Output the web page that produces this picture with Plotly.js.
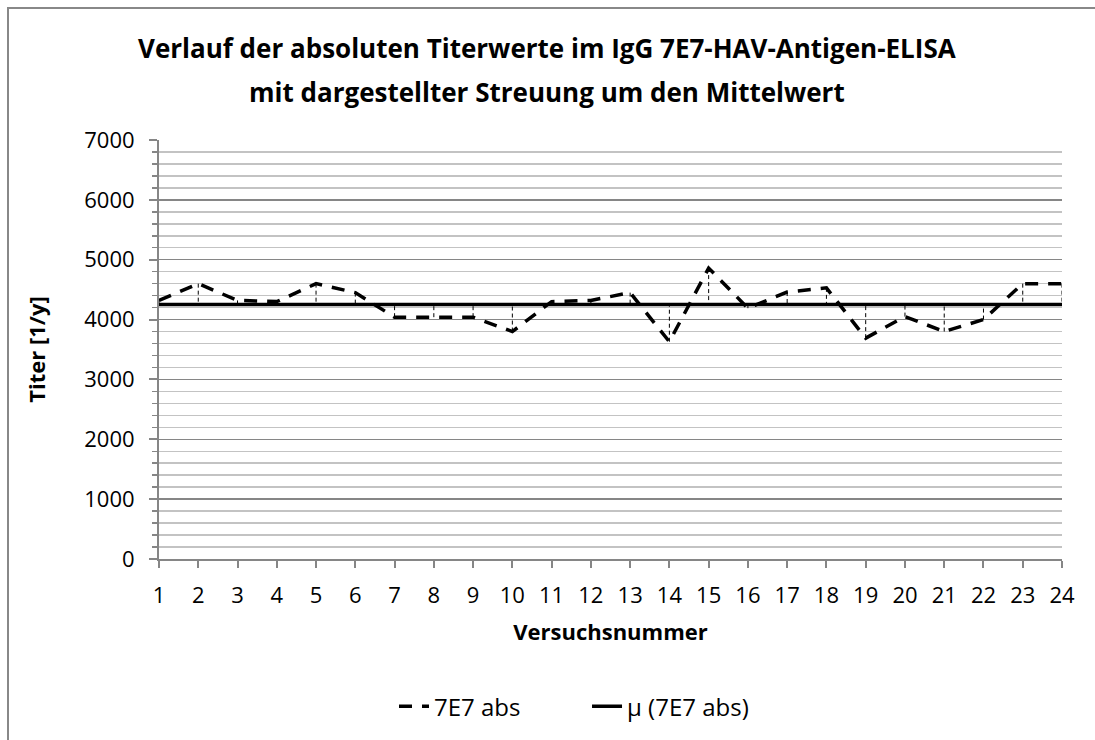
<!DOCTYPE html>
<html>
<head>
<meta charset="utf-8">
<script src="https://cdn.plot.ly/plotly-3.0.1.min.js"></script>
<style>
  html, body { margin: 0; padding: 0; background: #ffffff; overflow: hidden; }
  #wrap { position: relative; width: 1095px; height: 740px; overflow: hidden; }
  #chart { position: absolute; left: 0; top: 0; width: 1095px; height: 740px; }
  #frame { position: absolute; left: 7px; top: 7px; width: 1100px; height: 760px;
           border-top: 2px solid #888888; border-left: 2px solid #888888; pointer-events: none; }
</style>
</head>
<body>
<div id="wrap">
  <div id="chart"></div>
  <div id="frame"></div>
</div>
<script>
// Versuchsnummer (x categories)
const versuch = [1, 2, 3, 4, 5, 6, 7, 8, 9, 10, 11, 12, 13, 14, 15, 16, 17, 18, 19, 20, 21, 22, 23, 24];
// 7E7 abs titer values
const titer7E7 = [4320, 4600, 4320, 4300, 4600, 4450, 4040, 4040, 4040, 3800, 4300, 4320,
                  4450, 3630, 4860, 4190, 4460, 4530, 3690, 4050, 3800, 4000, 4600, 4600];
// µ (7E7 abs) – mean value line
const mean7E7 = [4250, 4250, 4250, 4250, 4250, 4250, 4250, 4250, 4250, 4250, 4250, 4250,
                 4250, 4250, 4250, 4250, 4250, 4250, 4250, 4250, 4250, 4250, 4250, 4250];
const yTickVals = [0, 1000, 2000, 3000, 4000, 5000, 6000, 7000];
const yTickText = ['0', '1000', '2000', '3000', '4000', '5000', '6000', '7000'];

const titleLine1 = 'Verlauf der absoluten Titerwerte im IgG 7E7-HAV-Antigen-ELISA';
const titleLine2 = 'mit dargestellter Streuung um den Mittelwert';

// high-low (spread) lines between each value and the mean
const hlX = [], hlY = [];
versuch.forEach((v, i) => {
  hlX.push(v, v, null);
  hlY.push(titer7E7[i], mean7E7[i], null);
});

const FONT = '"Open Sans", "Liberation Sans", sans-serif';
const GRAY = '#868686';

const traces = [
  {
    x: hlX, y: hlY, type: 'scatter', mode: 'lines',
    line: { color: '#000000', width: 1, dash: '4px,3px' },
    showlegend: false, hoverinfo: 'skip'
  },
  {
    x: versuch, y: titer7E7, type: 'scatter', mode: 'lines', name: '7E7 abs',
    line: { color: '#000000', width: 3.5, dash: '13px,10px' }
  },
  {
    x: versuch, y: mean7E7, type: 'scatter', mode: 'lines', name: 'µ (7E7 abs)',
    line: { color: '#000000', width: 3.5 }
  }
];

const layout = {
  width: 1095, height: 740,
  paper_bgcolor: 'rgba(0,0,0,0)', plot_bgcolor: '#ffffff',
  margin: { l: 159, r: 33, t: 140, b: 181 },
  font: { family: FONT, color: '#000000', size: 22 },
  showlegend: true,
  legend: {
    orientation: 'h', x: 0.474, xanchor: 'center', yref: 'container', y: 0.045, yanchor: 'middle',
    font: { family: FONT, size: 24, color: '#000000' }, bgcolor: 'rgba(0,0,0,0)',
    entrywidth: 148, entrywidthmode: 'pixels'
  },
  xaxis: {
    range: [1, 24], tickmode: 'array', tickvals: versuch, ticktext: versuch.map(String),
    showgrid: false, zeroline: false, showline: true, linecolor: GRAY, linewidth: 2,
    ticks: 'outside', ticklen: 7, tickcolor: GRAY, tickwidth: 2,
    ticklabelstandoff: 9,
    tickfont: { family: FONT, size: 22 },
    title: { text: '<b>Versuchsnummer</b>', font: { family: FONT, size: 22 }, standoff: 16 }
  },
  yaxis: {
    range: [0, 7000], tickmode: 'array', tickvals: yTickVals, ticktext: yTickText,
    showgrid: true, gridcolor: GRAY, gridwidth: 1.5, zeroline: false,
    showline: true, linecolor: GRAY, linewidth: 2,
    ticks: 'outside', ticklen: 8, tickcolor: GRAY, tickwidth: 2,
    ticklabelstandoff: 10,
    tickfont: { family: FONT, size: 22 },
    minor: { dtick: 200, showgrid: true, gridcolor: '#c3c3c3', gridwidth: 1.5,
             ticks: 'outside', ticklen: 5, tickcolor: GRAY, tickwidth: 1.5 },
    title: { text: '<b>Titer [1/y]</b>', font: { family: FONT, size: 22 }, standoff: 33 }
  },
  annotations: [
    { text: '<b>' + titleLine1 + '</b>', xref: 'paper', yref: 'paper', x: 0.43, y: 1,
      yshift: 140 - 48, xanchor: 'center', yanchor: 'middle', showarrow: false,
      font: { family: FONT, size: 26, color: '#000000' } },
    { text: '<b>' + titleLine2 + '</b>', xref: 'paper', yref: 'paper', x: 0.43, y: 1,
      yshift: 140 - 92, xanchor: 'center', yanchor: 'middle', showarrow: false,
      font: { family: FONT, size: 26, color: '#000000' } }
  ]
};

Plotly.newPlot('chart', traces, layout, { staticPlot: true, displayModeBar: false });
</script>
</body>
</html>
